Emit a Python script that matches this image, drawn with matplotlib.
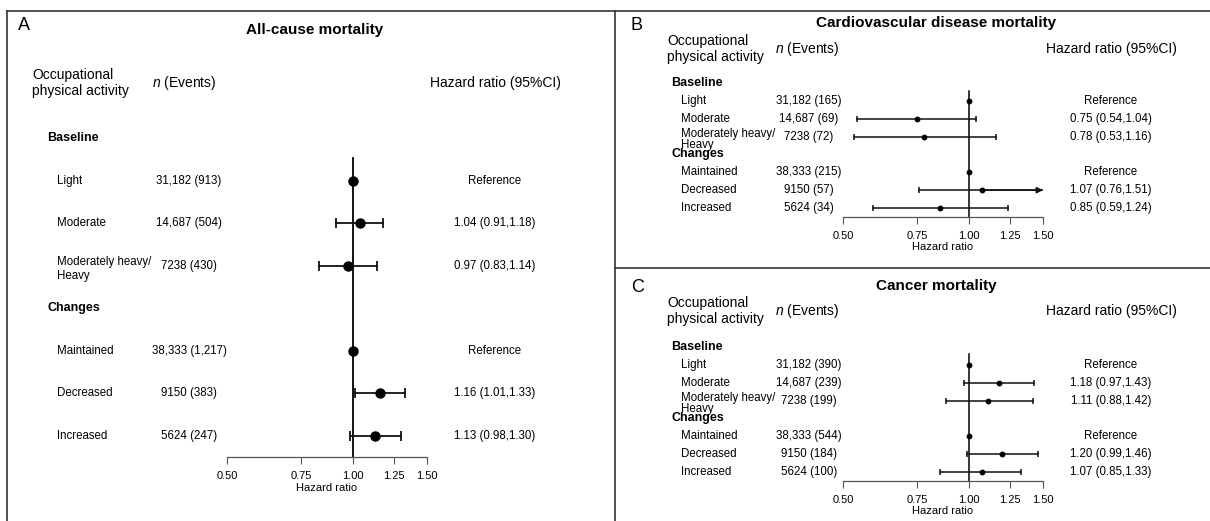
import numpy as np
import matplotlib.pyplot as plt
import matplotlib.ticker as mticker

plt.rcParams['font.family'] = ['Liberation Sans', 'DejaVu Sans']
plt.rcParams['mathtext.fontset'] = 'custom'
plt.rcParams['mathtext.it'] = 'Liberation Sans:italic'
plt.rcParams['mathtext.rm'] = 'Liberation Sans'

W, H = 1210, 521

# ---- data ----
group_names = ['Baseline', 'Changes']
row_labels = ['Light', 'Moderate', 'Moderately heavy/\nHeavy', 'Maintained', 'Decreased', 'Increased']
is_ref = [True, False, False, True, False, False]

allcause_n = ['31,182 (913)', '14,687 (504)', '7238 (430)', '38,333 (1,217)', '9150 (383)', '5624 (247)']
allcause_hr = [1.00, 1.04, 0.97, 1.00, 1.16, 1.13]
allcause_lo = [1.00, 0.91, 0.83, 1.00, 1.01, 0.98]
allcause_hi = [1.00, 1.18, 1.14, 1.00, 1.33, 1.30]

cvd_n = ['31,182 (165)', '14,687 (69)', '7238 (72)', '38,333 (215)', '9150 (57)', '5624 (34)']
cvd_hr = [1.00, 0.75, 0.78, 1.00, 1.07, 0.85]
cvd_lo = [1.00, 0.54, 0.53, 1.00, 0.76, 0.59]
cvd_hi = [1.00, 1.04, 1.16, 1.00, 1.51, 1.24]

cancer_n = ['31,182 (390)', '14,687 (239)', '7238 (199)', '38,333 (544)', '9150 (184)', '5624 (100)']
cancer_hr = [1.00, 1.18, 1.11, 1.00, 1.20, 1.07]
cancer_lo = [1.00, 0.97, 0.88, 1.00, 0.99, 0.85]
cancer_hi = [1.00, 1.43, 1.42, 1.00, 1.46, 1.33]

tick_vals = [0.50, 0.75, 1.00, 1.25, 1.50]
xmin, xmax = 0.5, 1.5

group_rows = [0, 4]
label_rows = [1, 2, 3, 5, 6, 7]

# ---- layout per panel (pixels) ----
panelA = dict(letter='A', letter_xy=(18, 26), title='All-cause mortality', title_xy=(315, 30),
              head_y=83, occ_x=32, nh_x=152, hr_x=495, grp_x=47, lab_x=57, n_x=189,
              row0=138, step=42.57, ax0=227, ax1=427, vtop=0.47,
              ms=6.5, cap=6.5, lw=1.3, vlw=1.3, mh_dy=(-4, 10))
panelB = dict(letter='B', letter_xy=(631, 25), title='Cardiovascular disease mortality', title_xy=(936, 23),
              head_y=49, occ_x=667, nh_x=775, hr_x=1111, grp_x=671, lab_x=681, n_x=809,
              row0=83, step=17.86, ax0=843, ax1=1043, vtop=0.45,
              ms=3.2, cap=3.8, lw=1.1, vlw=1.1, mh_dy=(-3, 8))
panelC = dict(panelB, letter='C', letter_xy=(631, 288), title='Cancer mortality', title_xy=(936, 286),
              head_y=311, row0=347, vtop=0.4)

fig = plt.figure(figsize=(W / 100, H / 100), dpi=100)
bg = fig.add_axes([0, 0, 1, 1])
bg.set_xlim(0, W)
bg.set_ylim(H, 0)
bg.axis('off')

# panel borders
bc = '#333333'
bg.plot([7, W], [11, 11], color=bc, lw=1.2)
bg.plot([7, 7], [11, H], color=bc, lw=1.2)
bg.plot([615, 615], [11, H], color=bc, lw=1.2)
bg.plot([615, W], [268, 268], color=bc, lw=1.2)


def draw_panel(cfg, n_txt, hr, lo, hi):
    ypx = lambda r: cfg['row0'] + r * cfg['step']

    bg.text(*cfg['letter_xy'], cfg['letter'], fontsize=13, ha='left', va='center')
    bg.text(*cfg['title_xy'], cfg['title'], fontsize=11, fontweight='bold', ha='center', va='center')
    bg.text(cfg['occ_x'], cfg['head_y'], 'Occupational\nphysical activity', fontsize=10,
            ha='left', va='center', linespacing=1.2)
    bg.text(cfg['nh_x'], cfg['head_y'], r'$n$ (Events)', fontsize=10, ha='left', va='center')
    bg.text(cfg['hr_x'], cfg['head_y'], 'Hazard ratio (95%CI)', fontsize=10, ha='center', va='center')

    for g, r in zip(group_names, group_rows):
        bg.text(cfg['grp_x'], ypx(r), g, fontsize=9, fontweight='bold', ha='left', va='center')

    for i, r in enumerate(label_rows):
        lab = row_labels[i]
        if '\n' in lab:
            l1, l2 = lab.split('\n')
            bg.text(cfg['lab_x'], ypx(r) + cfg['mh_dy'][0], l1, fontsize=8.3, ha='left', va='center')
            bg.text(cfg['lab_x'], ypx(r) + cfg['mh_dy'][1], l2, fontsize=8.3, ha='left', va='center')
        else:
            bg.text(cfg['lab_x'], ypx(r), lab, fontsize=8.3, ha='left', va='center')
        bg.text(cfg['n_x'], ypx(r), n_txt[i], fontsize=8.3, ha='center', va='center')
        if is_ref[i]:
            s = 'Reference'
        else:
            s = f'{hr[i]:.2f} ({lo[i]:.2f},{hi[i]:.2f})'
        bg.text(cfg['hr_x'], ypx(r), s, fontsize=8.3, ha='center', va='center')

    # forest axes
    top = cfg['row0'] - 0.5 * cfg['step']
    bot = cfg['row0'] + 7.5 * cfg['step']
    ax = fig.add_axes([cfg['ax0'] / W, 1 - bot / H, (cfg['ax1'] - cfg['ax0']) / W, (bot - top) / H])
    ax.patch.set_alpha(0)
    ax.set_xscale('log')
    ax.set_xlim(xmin, xmax)
    ax.set_ylim(7.5, -0.5)

    ax.plot([1, 1], [cfg['vtop'], 7.5], color='black', lw=cfg['vlw'], zorder=1, clip_on=False)

    for i, r in enumerate(label_rows):
        if not is_ref[i]:
            hi_c = min(hi[i], xmax)
            ax.plot([lo[i], hi_c], [r, r], color='#111111', lw=cfg['lw'], zorder=2)
            ax.plot([lo[i]], [r], marker='|', ms=cfg['cap'], mew=cfg['lw'], color='#111111', zorder=2)
            if hi[i] > xmax:
                ax.annotate('', xy=(xmax, r), xytext=(hr[i], r),
                            arrowprops=dict(arrowstyle='-|>', color='#111111', lw=cfg['lw'],
                                            mutation_scale=9, shrinkA=0, shrinkB=0), zorder=2)
            else:
                ax.plot([hi[i]], [r], marker='|', ms=cfg['cap'], mew=cfg['lw'], color='#111111',
                        zorder=2)
        ax.plot([hr[i]], [r], 'o', ms=cfg['ms'], color='black', zorder=3, clip_on=False)

    for s in ['top', 'left', 'right']:
        ax.spines[s].set_visible(False)
    ax.spines['bottom'].set_color('#555555')
    ax.spines['bottom'].set_linewidth(0.9)
    ax.set_yticks([])
    ax.xaxis.set_minor_locator(mticker.NullLocator())
    ax.set_xticks(tick_vals)
    ax.set_xticklabels([f'{v:.2f}' for v in tick_vals])
    ax.tick_params(axis='x', direction='out', length=5, width=0.8, color='#555555',
                   labelsize=8, pad=5)
    ax.set_xlabel('Hazard ratio', fontsize=8, labelpad=1)


draw_panel(panelA, allcause_n, allcause_hr, allcause_lo, allcause_hi)
draw_panel(panelB, cvd_n, cvd_hr, cvd_lo, cvd_hi)
draw_panel(panelC, cancer_n, cancer_hr, cancer_lo, cancer_hi)

fig.savefig('out.png', dpi=100)
